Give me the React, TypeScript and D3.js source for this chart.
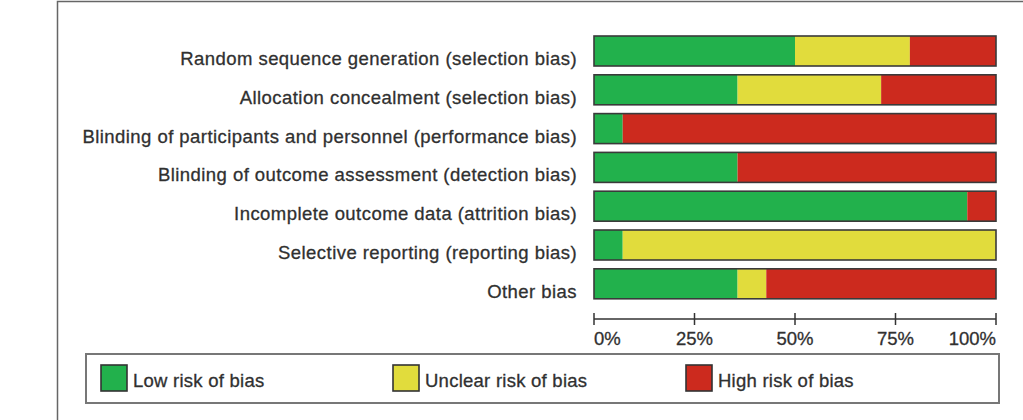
import React from "react";
import { scaleLinear, scaleBand, stack } from "d3";

// Risk-of-bias domains, top to bottom
const domains = [
  "Random sequence generation (selection bias)",
  "Allocation concealment (selection bias)",
  "Blinding of participants and personnel (performance bias)",
  "Blinding of outcome assessment (detection bias)",
  "Incomplete outcome data (attrition bias)",
  "Selective reporting (reporting bias)",
  "Other bias",
];

// Number of studies judged at each level (14 studies per domain)
const lowRisk = [7, 5, 1, 5, 13, 1, 5];
const unclearRisk = [4, 5, 0, 0, 0, 13, 1];
const highRisk = [3, 4, 13, 9, 1, 0, 8];

const levels = ["low", "unclear", "high"];
const levelLabels = ["Low risk of bias", "Unclear risk of bias", "High risk of bias"];
const levelColors = ["#22b14c", "#e1dc3c", "#cc2a1e"];

const tickValues = [0, 0.25, 0.5, 0.75, 1];
const tickLabels = ["0%", "25%", "50%", "75%", "100%"];

const FONT = "'Liberation Sans', Arial, sans-serif";
const TEXT = "#303030";

// slightly heavier glyphs than plain regular weight
const textStyle = { stroke: TEXT, strokeWidth: 0.3 };

const App = () => {
  const width = 1023;
  const height = 420;

  const rows = domains.map((d, i) => {
    const total = lowRisk[i] + unclearRisk[i] + highRisk[i];
    return {
      domain: d,
      low: lowRisk[i] / total,
      unclear: unclearRisk[i] / total,
      high: highRisk[i] / total,
    };
  });

  const series = stack().keys(levels)(rows as any);

  const x = scaleLinear().domain([0, 1]).range([594, 996]);
  const y = scaleBand()
    .domain(domains)
    .range([36, 36 + 6 * 38.8 + 30])
    .paddingInner(8.8 / 38.8)
    .paddingOuter(0);

  const axisY = 319;
  const legend = { x: 86, y: 354, w: 913, h: 49 };
  const legendItemX = [101, 393, 686];

  return (
    <svg
      width={width}
      height={height}
      style={{ position: "absolute", left: 0, top: 0, background: "#fff" }}
      fontFamily={FONT}
    >
      {/* outer frame */}
      <path d={`M57.5,${height} V1.5 H${width}`} fill="none" stroke="#666" strokeWidth={1.5} />

      {/* domain labels */}
      {domains.map((d) => (
        <text
          key={d}
          x={577}
          y={(y(d) as number) + y.bandwidth() / 2 + 14}
          textAnchor="end"
          fontSize={18.5}
          letterSpacing={0.45}
          fill={TEXT}
          style={textStyle}
        >
          {d}
        </text>
      ))}

      {/* stacked bars */}
      {series.map((s, si) => (
        <g key={levels[si]} fill={levelColors[si]}>
          {s.map((seg, i) =>
            seg[1] - seg[0] > 0 ? (
              <rect
                key={i}
                x={x(seg[0])}
                y={y(domains[i])}
                width={x(seg[1]) - x(seg[0])}
                height={y.bandwidth()}
              />
            ) : null
          )}
        </g>
      ))}
      {domains.map((d) => (
        <rect
          key={d}
          x={x(0)}
          y={y(d)}
          width={x(1) - x(0)}
          height={y.bandwidth()}
          fill="none"
          stroke="#3a3a3a"
          strokeWidth={1.6}
        />
      ))}

      {/* percentage axis */}
      <g stroke="#333" strokeWidth={1.5}>
        <line x1={x(0)} x2={x(1)} y1={axisY} y2={axisY} />
        {tickValues.map((t) => (
          <line key={t} x1={x(t)} x2={x(t)} y1={axisY - 6} y2={axisY + 6} />
        ))}
      </g>
      {tickValues.map((t, i) => (
        <text
          key={t}
          x={x(t)}
          y={345}
          textAnchor={i === 0 ? "start" : i === tickValues.length - 1 ? "end" : "middle"}
          fontSize={18.5}
          fill={TEXT}
          style={textStyle}
        >
          {tickLabels[i]}
        </text>
      ))}

      {/* legend */}
      <rect
        x={legend.x}
        y={legend.y}
        width={legend.w}
        height={legend.h}
        fill="#fff"
        stroke="#777"
        strokeWidth={2}
      />
      {levelLabels.map((label, i) => (
        <g key={label}>
          <rect
            x={legendItemX[i]}
            y={365}
            width={26}
            height={26}
            fill={levelColors[i]}
            stroke="#333"
            strokeWidth={1.6}
          />
          <text
            x={legendItemX[i] + 32}
            y={387}
            fontSize={18.5}
            letterSpacing={0.25}
            fill={TEXT}
            style={textStyle}
          >
            {label}
          </text>
        </g>
      ))}
    </svg>
  );
};

export default App;
